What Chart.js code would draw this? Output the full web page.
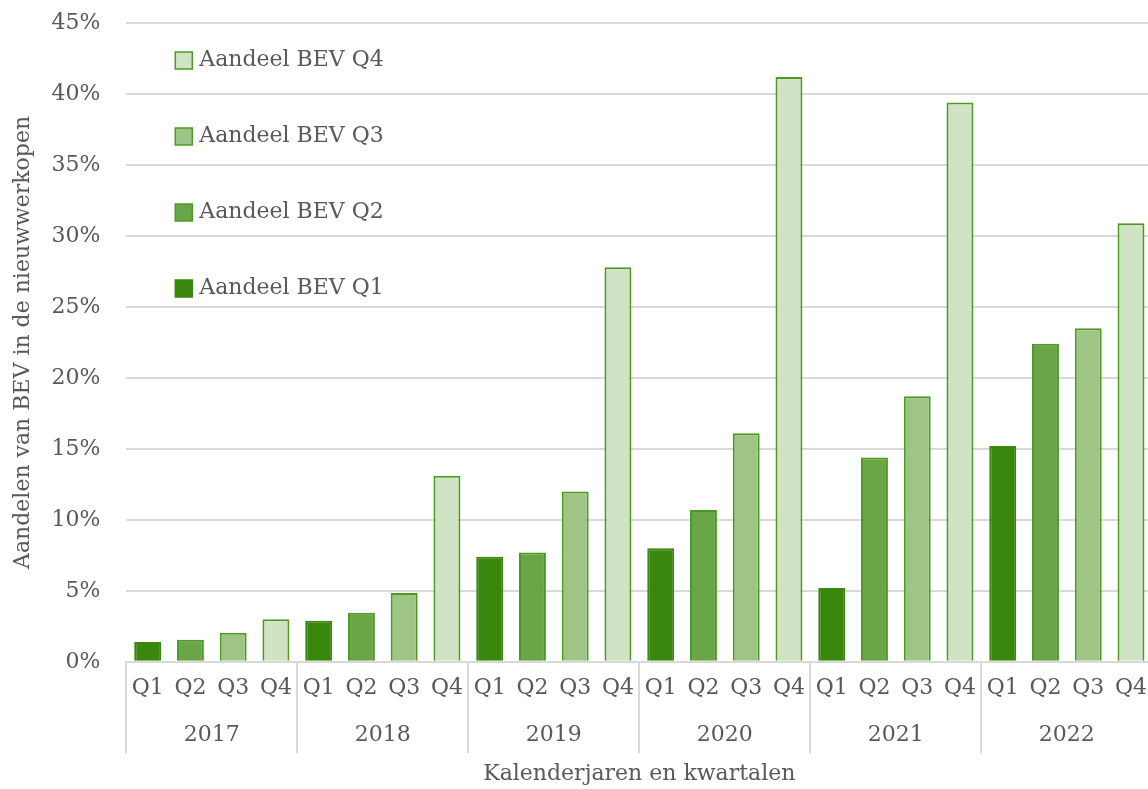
<!DOCTYPE html>
<html>
<head>
<meta charset="utf-8">
<script src="https://cdn.jsdelivr.net/npm/chart.js@4/dist/chart.umd.min.js"></script>
<style>
  html, body { margin: 0; padding: 0; background: #fff; overflow: hidden; }
  #wrap { width: 1160px; height: 789px; }
</style>
</head>
<body>
<div id="wrap"><canvas id="bevChart"></canvas></div>
<script>
const years = ['2017', '2018', '2019', '2020', '2021', '2022'];
const quarters = ['Q1', 'Q2', 'Q3', 'Q4'];
// share of BEV in new car sales, percent, per year
const q1 = [1.4, 2.9, 7.4, 8.0, 5.2, 15.2];
const q2 = [1.55, 3.45, 7.7, 10.7, 14.4, 22.4];
const q3 = [2.05, 4.85, 12.0, 16.1, 18.7, 23.5];
const q4 = [3.0, 13.1, 27.8, 41.2, 39.4, 30.9];
const yTicks = [0, 5, 10, 15, 20, 25, 30, 35, 40, 45];

const FONT = 'DejaVu Serif';
const GREY = '#595959';
const LINE = '#d9d9d9';

// one label per quarter, year groups of four
const labels = [];
years.forEach(y => quarters.forEach(q => labels.push(q)));

function spread(values, qi) {
  const out = [];
  values.forEach(v => {
    for (let i = 0; i < 4; i++) out.push(i === qi ? v : null);
  });
  return out;
}

const series = [
  { label: 'Aandeel BEV Q1', data: spread(q1, 0), backgroundColor: '#3a870e', borderColor: '#3a870e' },
  { label: 'Aandeel BEV Q2', data: spread(q2, 1), backgroundColor: '#6aa547', borderColor: '#4c9a22' },
  { label: 'Aandeel BEV Q3', data: spread(q3, 2), backgroundColor: '#9ec585', borderColor: '#4c9a22' },
  { label: 'Aandeel BEV Q4', data: spread(q4, 3), backgroundColor: '#d0e3c4', borderColor: '#4c9a22' }
];

// legend inside the plot, Q4 on top
const insideLegend = {
  id: 'insideLegend',
  afterDraw(chart) {
    const ctx = chart.ctx;
    const area = chart.chartArea;
    const list = chart.data.datasets.slice().reverse();
    ctx.save();
    ctx.font = '22px "' + FONT + '"';
    ctx.textBaseline = 'middle';
    list.forEach((ds, i) => {
      const x = area.left + 49;
      const y = area.top + 37 + i * 76;
      ctx.fillStyle = ds.backgroundColor;
      ctx.fillRect(x, y - 8, 17, 17);
      ctx.strokeStyle = ds.borderColor;
      ctx.lineWidth = 1.5;
      ctx.strokeRect(x, y - 8, 17, 17);
      ctx.fillStyle = GREY;
      ctx.fillText(ds.label, x + 24, y);
    });
    ctx.restore();
  }
};

// separators between the year groups, below the x axis
const yearSeparators = {
  id: 'yearSeparators',
  afterDraw(chart) {
    const x = chart.scales.x;
    const x2 = chart.scales.x2;
    const half = (x.getPixelForValue(1) - x.getPixelForValue(0)) / 2;
    const ctx = chart.ctx;
    ctx.save();
    ctx.strokeStyle = LINE;
    ctx.lineWidth = 2;
    for (let i = 0; i <= labels.length; i += 4) {
      const px = Math.round(x.getPixelForValue(i) - half);
      ctx.beginPath();
      ctx.moveTo(px, x.top);
      ctx.lineTo(px, x2.top + 39);
      ctx.stroke();
    }
    ctx.restore();
  }
};

const ctx = document.getElementById('bevChart').getContext('2d');
new Chart(ctx, {
  type: 'bar',
  data: {
    labels: labels,
    datasets: series.map(s => Object.assign({
      borderWidth: 2,
      borderSkipped: 'bottom',
      barPercentage: 0.63,
      categoryPercentage: 1.0,
      grouped: false
    }, s))
  },
  plugins: [insideLegend, yearSeparators],
  options: {
    responsive: true,
    maintainAspectRatio: false,
    animation: false,
    layout: { padding: { top: 23, right: 0, left: 10, bottom: 2 } },
    plugins: {
      legend: { display: false },
      tooltip: { enabled: false }
    },
    scales: {
      y: {
        min: 0,
        max: 45,
        afterBuildTicks: axis => { axis.ticks = yTicks.map(v => ({ value: v })); },
        ticks: {
          callback: v => v + '%',
          color: GREY,
          font: { family: FONT, size: 22 },
          padding: 0
        },
        grid: { color: LINE, lineWidth: 2, drawTicks: true, tickLength: 26, tickColor: 'rgba(0,0,0,0)' },
        border: { display: false },
        title: {
          display: true,
          text: 'Aandelen van BEV in de nieuwwerkopen',
          color: GREY,
          font: { family: FONT, size: 22 },
          padding: { top: 0, bottom: 15 }
        }
      },
      x: {
        offset: true,
        ticks: {
          color: GREY,
          font: { family: FONT, size: 22 },
          padding: 13,
          maxRotation: 0,
          autoSkip: false
        },
        grid: { display: false, drawTicks: false },
        border: { display: true, color: LINE, width: 2 }
      },
      x2: {
        type: 'category',
        position: 'bottom',
        labels: years,
        offset: true,
        ticks: {
          color: GREY,
          font: { family: FONT, size: 22 },
          padding: 8,
          maxRotation: 0
        },
        grid: { display: false, drawTicks: false },
        border: { display: false },
        title: {
          display: true,
          text: 'Kalenderjaren en kwartalen',
          color: GREY,
          font: { family: FONT, size: 22 },
          padding: { top: 4, bottom: 0 }
        }
      }
    }
  }
});
</script>
</body>
</html>
